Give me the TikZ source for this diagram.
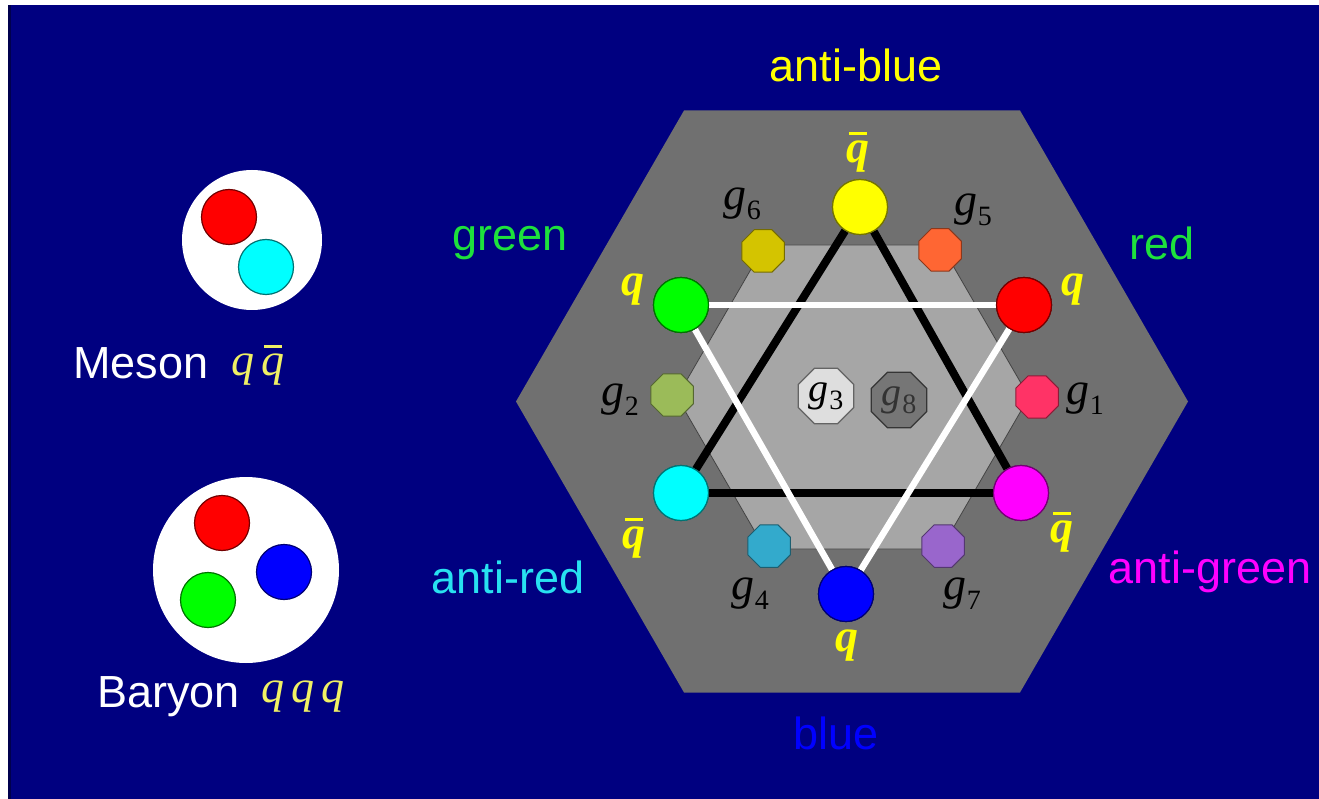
\documentclass[tikz,border=0pt]{standalone}
\usepackage{fontspec}
\setmainfont{Liberation Sans}
\newfontfamily\serifit{Liberation Serif}
\usetikzlibrary{shapes.geometric}
\newcommand\mygsym[1]{{\serifit\itshape g}\kern0.02em\raisebox{-0.2em}{\fontsize{28}{30}\selectfont\serifit #1}}
\newcommand\myqbar{\ooalign{\hidewidth\rule[0.58em]{0.40em}{0.07em}\hidewidth\cr q\cr}}
\definecolor{navybg}{RGB}{0,0,128}
\definecolor{hexdark}{RGB}{112,112,112}
\definecolor{hexlight}{RGB}{166,166,166}
\definecolor{lblgreen}{RGB}{30,225,60}
\definecolor{lblcyan}{RGB}{40,225,240}
\definecolor{lblmag}{RGB}{255,0,255}
\definecolor{lblblue}{RGB}{0,0,255}
\definecolor{qyellow}{RGB}{255,255,0}
\definecolor{qgreen}{RGB}{0,255,0}
\definecolor{qred}{RGB}{255,0,0}
\definecolor{qcyan}{RGB}{0,255,255}
\definecolor{qmag}{RGB}{255,0,255}
\definecolor{qblue}{RGB}{0,0,255}
\definecolor{paleyellow}{RGB}{240,240,100}
\definecolor{gsix}{RGB}{212,196,0}
\definecolor{gfive}{RGB}{255,102,51}
\definecolor{gtwo}{RGB}{155,187,89}
\definecolor{gone}{RGB}{255,51,102}
\definecolor{gfour}{RGB}{51,170,204}
\definecolor{gseven}{RGB}{153,102,204}
\definecolor{gthree}{RGB}{222,222,222}
\definecolor{geight}{RGB}{118,118,118}
\tikzset{
  quark/.style={circle, minimum size=55pt, inner sep=0pt, fill=#1, draw=#1!45!black, line width=1.2pt},
  oct/.style={regular polygon, regular polygon sides=8, minimum size=46pt, inner sep=0pt, fill=#1, draw=#1!55!black, line width=1pt},
  bigoct/.style={regular polygon, regular polygon sides=8, minimum size=60pt, inner sep=0pt, fill=#1, draw=#1!45!black, line width=1.2pt},
  word/.style={font=\fontsize{45}{54}\selectfont, inner sep=0pt},
  qlab/.style={text=qyellow, font=\fontsize{46}{52}\selectfont\serifit\bfseries\itshape, inner sep=0pt},
  glab/.style={text=black, font=\fontsize{46}{52}\selectfont, inner sep=0pt},
  mlab/.style={text=paleyellow, font=\fontsize{46}{52}\selectfont\serifit\itshape, inner sep=0pt},
  blackline/.style={line width=8pt, black},
  whiteline/.style={line width=6.5pt, white},
}
\begin{document}
\begin{tikzpicture}[x=1pt,y=-1pt]
\useasboundingbox (0,0) rectangle (1319,799);
\fill[white] (0,0) rectangle (1319,799);
\fill[navybg] (8,5) rectangle (1319,799);
\fill[navybg!60!black] (8,5) rectangle (11,799);
% hexagons
\fill[hexdark] (516,401.5) -- (684,110.5) -- (1020,110.5) -- (1188,401.5) -- (1020,692.5) -- (684,692.5) -- cycle;
\filldraw[fill=hexlight, draw=hexdark!60!black, line width=0.8pt] (677,397) -- (765,245) -- (941,245) -- (1029,397) -- (941,549) -- (765,549) -- cycle;
% quarks
\node[quark=qyellow] (yb) at (860,207) {};
\node[quark=qgreen] (gq) at (681,305) {};
\node[quark=qred] (rq) at (1024,305) {};
\node[quark=qcyan] (cq) at (681,493) {};
\node[quark=qmag] (mq) at (1021,493) {};
\node[quark=qblue] (bq) at (846,594) {};
% triangles
\draw[blackline] (yb) -- (cq);
\draw[blackline] (yb) -- (mq);
\draw[blackline] (cq) -- (mq);
\draw[whiteline] (gq) -- (rq);
\draw[whiteline] (gq) -- (bq);
\draw[whiteline] (rq) -- (bq);
% redraw quarks on top
\node[quark=qyellow] at (yb) {};
\node[quark=qgreen] at (gq) {};
\node[quark=qred] at (rq) {};
\node[quark=qcyan] at (cq) {};
\node[quark=qmag] at (mq) {};
\node[quark=qblue] at (bq) {};
% gluon octagons
\node[oct=gsix] (o6) at (763,251) {};
\node[oct=gfive] (o5) at (940,250) {};
\node[oct=gtwo] (o2) at (672,395) {};
\node[oct=gone] (o1) at (1037,397) {};
\node[oct=gfour] (o4) at (769,546) {};
\node[oct=gseven] (o7) at (943,546) {};
\node[bigoct=gthree, font=\fontsize{40}{44}\selectfont] (o3) at (826,396) {\mygsym{3}};
\node[bigoct=geight, font=\fontsize{40}{44}\selectfont, text=black!80] (o8) at (899,400) {\mygsym{8}};
% gluon labels
\node[glab] (l6) at (742,204) {\mygsym{6}};
\node[glab] (l5) at (973,210) {\mygsym{5}};
\node[glab] (l2) at (620,400) {\mygsym{2}};
\node[glab] (l1) at (1085,399) {\mygsym{1}};
\node[glab] (l4) at (750,594) {\mygsym{4}};
\node[glab] (l7) at (962,594) {\mygsym{7}};
% quark labels
\node[qlab] (t1) at (858,152) {\myqbar};
\node[qlab] (t2) at (633,290) {q};
\node[qlab] (t3) at (1073,290) {q};
\node[qlab] (t4) at (634,538) {\myqbar};
\node[qlab] (t5) at (1062,532) {\myqbar};
\node[qlab] (t6) at (847,646) {q};
% colour words
\node[word, text=qyellow] (w1) at (856,65) {anti-blue};
\node[word, text=lblgreen] (w2) at (510,243) {green};
\node[word, text=lblgreen] (w3) at (1162,243) {red};
\node[word, text=lblcyan] (w4) at (508,577) {anti-red};
\node[word, text=lblmag] (w5) at (1210,572) {anti-green};
\node[word, text=lblblue] (w6) at (836,733) {blue};
% meson
\node[circle, fill=white, minimum size=140pt, inner sep=0pt] (mes) at (252,240) {};
\node[quark=qred] (m1) at (229,217) {};
\node[quark=qcyan] (m2) at (266,267) {};
\node[word, text=white, anchor=west] (mw) at (73,363) {Meson};
\node[mlab] (mq2) at (258,365) {q\kern0.15em\myqbar};
% baryon
\node[circle, fill=white, minimum size=186pt, inner sep=0pt] (bar) at (246,570) {};
\node[quark=qred] (b1) at (222,523) {};
\node[quark=qblue] (b2) at (284,572) {};
\node[quark=qgreen] (b3) at (208,600) {};
\node[word, text=white, anchor=west] (bw) at (97,697) {Baryon};
\node[mlab] (bq2) at (303,697) {q\kern0.15em q\kern0.15em q};
\end{tikzpicture}
\end{document}
